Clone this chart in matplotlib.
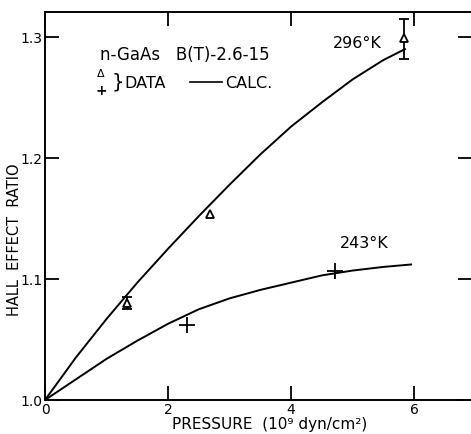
import matplotlib
matplotlib.use("Agg")
import matplotlib.pyplot as plt

# Calculated curves
calc_296_x = [0.0, 0.5, 1.0, 1.5, 2.0, 2.5, 3.0, 3.5, 4.0, 4.5, 5.0, 5.5, 5.85]
calc_296_y = [1.0, 1.035, 1.067, 1.097, 1.125, 1.152, 1.178, 1.203, 1.226, 1.246, 1.265, 1.281, 1.290]
calc_243_x = [0.0, 0.5, 1.0, 1.5, 2.0, 2.5, 3.0, 3.5, 4.0, 4.5, 5.0, 5.5, 5.95]
calc_243_y = [1.0, 1.017, 1.034, 1.049, 1.063, 1.075, 1.084, 1.091, 1.097, 1.103, 1.107, 1.110, 1.112]

# Data points
data_296_x = [1.33, 2.68, 5.84]
data_296_y = [1.080, 1.154, 1.299]
data_296_err_lo = [0.005, 0.0, 0.017]
data_296_err_hi = [0.005, 0.0, 0.016]
data_243_x = [2.31, 4.72]
data_243_y = [1.062, 1.107]

x_ticks = [0, 2, 4, 6]
y_ticks = [1.0, 1.1, 1.2, 1.3]
y_ticklabels = ["1.0", "1.1", "1.2", "1.3"]

plt.rcParams['font.family'] = ['DejaVu Sans']

fig = plt.figure(figsize=(4.71, 4.34), dpi=100)
W, H = 471, 434
ax = fig.add_axes([45 / W, (434 - 400) / H, (472 - 45) / W, (400 - 12) / H])

ax.plot(calc_296_x, calc_296_y, color='black', lw=1.4)
ax.plot(calc_243_x, calc_243_y, color='black', lw=1.4)

ax.plot(data_296_x, data_296_y, '^', mfc='white', mec='black', ms=6, mew=1.3, zorder=4)
idx = [i for i in range(len(data_296_x)) if data_296_err_lo[i] > 0 or data_296_err_hi[i] > 0]
ax.errorbar([data_296_x[i] for i in idx], [data_296_y[i] for i in idx],
            yerr=[[data_296_err_lo[i] for i in idx], [data_296_err_hi[i] for i in idx]],
            fmt='none', ecolor='black', elinewidth=1.3, capsize=3.5, capthick=1.3, zorder=3)
ax.plot(data_243_x, data_243_y, '+', color='black', ms=11, mew=1.3, zorder=3)

ax.set_xlim(0, 6.94)
ax.set_ylim(1.0, 1.3207)
ax.set_xticks(x_ticks)
ax.set_xticklabels([str(t) for t in x_ticks])
ax.set_yticks(y_ticks)
ax.set_yticklabels(y_ticklabels)
ax.tick_params(direction='in', length=10, width=1.3, top=True, right=True,
               labelsize=10)
ax.tick_params(axis='x', pad=2.5)
ax.tick_params(axis='y', pad=1.5)
for s in ax.spines.values():
    s.set_linewidth(1.4)

fig.text(15 / W, 1 - 240 / H, "HALL  EFFECT  RATIO", rotation=90, fontsize=10.5,
         ha='center', va='center')
fig.text(270 / W, 1 - 425 / H, "PRESSURE  (10⁹ dyn/cm²)", fontsize=11,
         ha='center', va='center')

def fx(px):
    return (px - 45) / 427.0

def fy(py):
    return (400 - py) / 388.0

ax.text(fx(100), fy(55), "n-GaAs   B(T)-2.6-15", transform=ax.transAxes,
        fontsize=12, va='center', ha='left')
ax.text(fx(101), fy(74), "Δ", transform=ax.transAxes, fontsize=8,
        va='center', ha='center')
ax.text(fx(101), fy(91), "+", transform=ax.transAxes, fontsize=10,
        va='center', ha='center', fontweight='bold')
ax.text(fx(112), fy(82), "}", transform=ax.transAxes, fontsize=14,
        va='center', ha='left')
ax.text(fx(124), fy(83), "DATA", transform=ax.transAxes, fontsize=11.5,
        va='center', ha='left')
ax.plot([fx(190), fx(222)], [fy(82), fy(82)], transform=ax.transAxes,
        color='black', lw=1.2)
ax.text(fx(225), fy(83), "CALC.", transform=ax.transAxes, fontsize=11.5,
        va='center', ha='left')
ax.text(fx(333), fy(44), "296°K", transform=ax.transAxes, fontsize=11.5,
        va='center', ha='left')
ax.text(fx(340), fy(244), "243°K", transform=ax.transAxes, fontsize=11.5,
        va='center', ha='left')

fig.savefig("out.png", dpi=100)
